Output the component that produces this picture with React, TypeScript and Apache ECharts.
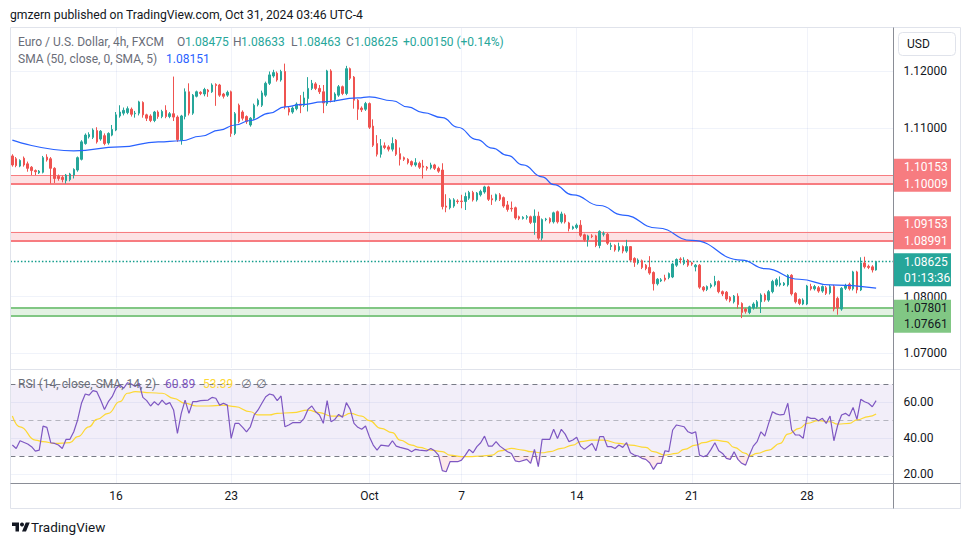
import React, { useEffect, useRef } from "react";
import * as echarts from "echarts";

const FONT = "Roboto, 'Noto Sans', 'DejaVu Sans', sans-serif";

// EUR/USD 4h candles, each [open, high, low, close]
const weekSep09 = [
  [1.1050, 1.1053, 1.1031, 1.1034], [1.1045, 1.1048, 1.1030, 1.1033], [1.1032, 1.1044, 1.1030, 1.1042],
  [1.1046, 1.1049, 1.1031, 1.1034], [1.1036, 1.1040, 1.1022, 1.1028], [1.1030, 1.1032, 1.1016, 1.1024],
  [1.1024, 1.1026, 1.1016, 1.1022], [1.1020, 1.1025, 1.1018, 1.1023], [1.1021, 1.1050, 1.1019, 1.1047],
  [1.1048, 1.1053, 1.1040, 1.1043], [1.1045, 1.1048, 1.1001, 1.1028], [1.1028, 1.1030, 1.1002, 1.1010],
  [1.1014, 1.1017, 1.1006, 1.1010], [1.1012, 1.1015, 1.1003, 1.1008], [1.1006, 1.1018, 1.1001, 1.1016],
  [1.1008, 1.1020, 1.1005, 1.1018], [1.1016, 1.1028, 1.1010, 1.1026], [1.1025, 1.1049, 1.1022, 1.1047],
  [1.1044, 1.1078, 1.1042, 1.1075], [1.1072, 1.1090, 1.1070, 1.1087], [1.1084, 1.1092, 1.1081, 1.1088],
  [1.1083, 1.1099, 1.1080, 1.1096], [1.1095, 1.1101, 1.1072, 1.1075], [1.1080, 1.1096, 1.1077, 1.1094],
  [1.1086, 1.1090, 1.1069, 1.1072], [1.1073, 1.1092, 1.1070, 1.1090], [1.1087, 1.1105, 1.1085, 1.1097],
];
const weekSep16 = [
  [1.1096, 1.1128, 1.1094, 1.1123], [1.1121, 1.1140, 1.1118, 1.1128], [1.1126, 1.1136, 1.1122, 1.1131],
  [1.1127, 1.1138, 1.1124, 1.1134], [1.1133, 1.1136, 1.1120, 1.1124], [1.1125, 1.1130, 1.1118, 1.1126],
  [1.1126, 1.1148, 1.1122, 1.1146], [1.1145, 1.1147, 1.1118, 1.1123], [1.1123, 1.1125, 1.1112, 1.1117],
  [1.1121, 1.1124, 1.1110, 1.1113], [1.1113, 1.1130, 1.1110, 1.1128], [1.1128, 1.1131, 1.1116, 1.1120],
  [1.1120, 1.1132, 1.1117, 1.1129], [1.1131, 1.1140, 1.1117, 1.1120], [1.1120, 1.1128, 1.1117, 1.1125],
  [1.1125, 1.1191, 1.1112, 1.1119], [1.1119, 1.1122, 1.1075, 1.1079], [1.1078, 1.1123, 1.1070, 1.1121],
  [1.1120, 1.1170, 1.1115, 1.1164], [1.1164, 1.1179, 1.1122, 1.1126], [1.1126, 1.1160, 1.1123, 1.1158],
  [1.1156, 1.1166, 1.1154, 1.1164], [1.1163, 1.1165, 1.1158, 1.1161], [1.1160, 1.1171, 1.1156, 1.1168],
  [1.1167, 1.1169, 1.1155, 1.1164], [1.1164, 1.1179, 1.1162, 1.1176], [1.1177, 1.1179, 1.1139, 1.1175],
  [1.1176, 1.1178, 1.1155, 1.1158], [1.1160, 1.1162, 1.1152, 1.1156], [1.1158, 1.1166, 1.1155, 1.1163],
];
const weekSep23 = [
  [1.1164, 1.1166, 1.1084, 1.1090], [1.1090, 1.1128, 1.1087, 1.1125], [1.1140, 1.1143, 1.1108, 1.1111],
  [1.1128, 1.1131, 1.1113, 1.1117], [1.1120, 1.1122, 1.1107, 1.1111], [1.1105, 1.1119, 1.1102, 1.1117],
  [1.1117, 1.1143, 1.1114, 1.1140], [1.1141, 1.1152, 1.1138, 1.1149], [1.1140, 1.1166, 1.1137, 1.1162],
  [1.1158, 1.1182, 1.1155, 1.1179], [1.1179, 1.1200, 1.1176, 1.1194], [1.1192, 1.1203, 1.1189, 1.1198],
  [1.1197, 1.1200, 1.1182, 1.1185], [1.1185, 1.1203, 1.1182, 1.1200], [1.1200, 1.1214, 1.1133, 1.1137],
  [1.1134, 1.1137, 1.1122, 1.1128], [1.1128, 1.1138, 1.1125, 1.1135], [1.1134, 1.1145, 1.1131, 1.1142],
  [1.1142, 1.1158, 1.1126, 1.1140], [1.1140, 1.1164, 1.1137, 1.1153], [1.1152, 1.1190, 1.1129, 1.1170],
  [1.1170, 1.1185, 1.1167, 1.1179], [1.1178, 1.1181, 1.1167, 1.1170], [1.1170, 1.1176, 1.1160, 1.1164],
  [1.1164, 1.1176, 1.1126, 1.1144], [1.1143, 1.1203, 1.1139, 1.1201], [1.1201, 1.1204, 1.1145, 1.1149],
  [1.1150, 1.1163, 1.1146, 1.1160], [1.1158, 1.1176, 1.1155, 1.1173], [1.1173, 1.1175, 1.1158, 1.1161],
];
const weekSep30 = [
  [1.1161, 1.1210, 1.1158, 1.1205], [1.1205, 1.1207, 1.1185, 1.1188], [1.1190, 1.1192, 1.1134, 1.1149],
  [1.1149, 1.1151, 1.1114, 1.1133], [1.1135, 1.1138, 1.1128, 1.1132], [1.1133, 1.1146, 1.1130, 1.1143],
  [1.1143, 1.1145, 1.1098, 1.1101], [1.1103, 1.1115, 1.1066, 1.1069], [1.1072, 1.1087, 1.1049, 1.1053],
  [1.1053, 1.1080, 1.1047, 1.1068], [1.1068, 1.1074, 1.1062, 1.1065], [1.1066, 1.1069, 1.1058, 1.1062],
  [1.1062, 1.1083, 1.1058, 1.1072], [1.1078, 1.1080, 1.1050, 1.1053], [1.1054, 1.1065, 1.1033, 1.1044],
  [1.1047, 1.1049, 1.1041, 1.1044], [1.1044, 1.1046, 1.1035, 1.1038], [1.1040, 1.1042, 1.1031, 1.1034],
  [1.1034, 1.1046, 1.1031, 1.1038], [1.1037, 1.1040, 1.1027, 1.1030], [1.1032, 1.1043, 1.1010, 1.1030],
  [1.1030, 1.1032, 1.1024, 1.1028], [1.1029, 1.1038, 1.1026, 1.1034], [1.1034, 1.1036, 1.1025, 1.1028],
  [1.1028, 1.1031, 1.1020, 1.1023], [1.1025, 1.1037, 1.0955, 1.0960], [1.0961, 1.0982, 1.0950, 1.0959],
  [1.0958, 1.0975, 1.0955, 1.0972], [1.0961, 1.0975, 1.0958, 1.0972], [1.0970, 1.0973, 1.0965, 1.0969],
];
const weekOct07 = [
  [1.0970, 1.0981, 1.0957, 1.0969], [1.0969, 1.0985, 1.0954, 1.0978], [1.0975, 1.0988, 1.0972, 1.0985],
  [1.0985, 1.0988, 1.0969, 1.0972], [1.0972, 1.0986, 1.0969, 1.0984], [1.0981, 1.0990, 1.0978, 1.0987],
  [1.0986, 1.0997, 1.0983, 1.0995], [1.0995, 1.0997, 1.0970, 1.0973], [1.0974, 1.0981, 1.0963, 1.0972],
  [1.0972, 1.0983, 1.0969, 1.0981], [1.0981, 1.0984, 1.0970, 1.0973], [1.0976, 1.0978, 1.0958, 1.0961],
  [1.0963, 1.0970, 1.0951, 1.0955], [1.0957, 1.0969, 1.0951, 1.0956], [1.0958, 1.0960, 1.0937, 1.0940],
  [1.0942, 1.0944, 1.0936, 1.0939], [1.0939, 1.0943, 1.0937, 1.0941], [1.0941, 1.0945, 1.0937, 1.0942],
  [1.0942, 1.0944, 1.0929, 1.0932], [1.0932, 1.0955, 1.0910, 1.0943], [1.0943, 1.0951, 1.0901, 1.0904],
  [1.0904, 1.0939, 1.0900, 1.0937], [1.0937, 1.0940, 1.0934, 1.0938], [1.0939, 1.0941, 1.0930, 1.0933],
  [1.0933, 1.0951, 1.0930, 1.0949], [1.0951, 1.0953, 1.0930, 1.0933], [1.0933, 1.0951, 1.0930, 1.0947],
  [1.0945, 1.0948, 1.0930, 1.0933], [1.0931, 1.0933, 1.0916, 1.0921], [1.0921, 1.0926, 1.0919, 1.0924],
];
const weekOct14 = [
  [1.0923, 1.0930, 1.0920, 1.0927], [1.0927, 1.0936, 1.0906, 1.0909], [1.0910, 1.0912, 1.0898, 1.0901],
  [1.0901, 1.0910, 1.0889, 1.0908], [1.0908, 1.0911, 1.0904, 1.0907], [1.0908, 1.0910, 1.0888, 1.0891],
  [1.0891, 1.0918, 1.0886, 1.0916], [1.0911, 1.0916, 1.0907, 1.0912], [1.0911, 1.0913, 1.0892, 1.0895],
  [1.0889, 1.0896, 1.0883, 1.0891], [1.0891, 1.0893, 1.0880, 1.0883], [1.0883, 1.0896, 1.0880, 1.0889],
  [1.0889, 1.0891, 1.0877, 1.0881], [1.0881, 1.0901, 1.0878, 1.0889], [1.0889, 1.0890, 1.0862, 1.0865],
  [1.0868, 1.0870, 1.0853, 1.0861], [1.0860, 1.0868, 1.0857, 1.0865], [1.0864, 1.0866, 1.0849, 1.0852],
  [1.0856, 1.0858, 1.0847, 1.0850], [1.0852, 1.0872, 1.0839, 1.0842], [1.0843, 1.0845, 1.0811, 1.0823],
  [1.0823, 1.0833, 1.0820, 1.0831], [1.0828, 1.0833, 1.0826, 1.0830], [1.0833, 1.0839, 1.0827, 1.0830],
  [1.0834, 1.0843, 1.0831, 1.0841], [1.0835, 1.0860, 1.0833, 1.0858], [1.0856, 1.0868, 1.0853, 1.0866],
  [1.0867, 1.0870, 1.0859, 1.0866], [1.0859, 1.0870, 1.0856, 1.0865], [1.0865, 1.0867, 1.0853, 1.0856],
];
const weekOct21 = [
  [1.0860, 1.0862, 1.0855, 1.0858], [1.0853, 1.0858, 1.0845, 1.0856], [1.0856, 1.0858, 1.0814, 1.0817],
  [1.0817, 1.0819, 1.0809, 1.0812], [1.0813, 1.0820, 1.0810, 1.0818], [1.0818, 1.0824, 1.0815, 1.0821],
  [1.0821, 1.0837, 1.0818, 1.0827], [1.0827, 1.0829, 1.0806, 1.0809], [1.0809, 1.0811, 1.0801, 1.0805],
  [1.0808, 1.0810, 1.0793, 1.0796], [1.0799, 1.0801, 1.0790, 1.0793], [1.0791, 1.0803, 1.0788, 1.0801],
  [1.0801, 1.0806, 1.0779, 1.0786], [1.0788, 1.0790, 1.0762, 1.0772], [1.0778, 1.0780, 1.0770, 1.0774],
  [1.0772, 1.0784, 1.0769, 1.0782], [1.0780, 1.0790, 1.0777, 1.0787], [1.0782, 1.0794, 1.0779, 1.0791],
  [1.0791, 1.0806, 1.0771, 1.0803], [1.0803, 1.0806, 1.0791, 1.0794], [1.0794, 1.0812, 1.0791, 1.0809],
  [1.0809, 1.0830, 1.0806, 1.0827], [1.0821, 1.0833, 1.0818, 1.0830], [1.0821, 1.0836, 1.0818, 1.0824],
  [1.0821, 1.0826, 1.0819, 1.0824], [1.0821, 1.0840, 1.0818, 1.0838], [1.0838, 1.0840, 1.0802, 1.0805],
  [1.0806, 1.0808, 1.0788, 1.0791], [1.0795, 1.0797, 1.0785, 1.0788], [1.0787, 1.0797, 1.0785, 1.0794],
];
const weekOct28 = [
  [1.0787, 1.0821, 1.0785, 1.0819], [1.0818, 1.0823, 1.0811, 1.0814], [1.0814, 1.0821, 1.0811, 1.0818],
  [1.0816, 1.0819, 1.0807, 1.0810], [1.0810, 1.0820, 1.0807, 1.0818], [1.0816, 1.0819, 1.0803, 1.0806],
  [1.0807, 1.0821, 1.0804, 1.0818], [1.0818, 1.0821, 1.0774, 1.0778], [1.0797, 1.0800, 1.0768, 1.0780],
  [1.0778, 1.0817, 1.0775, 1.0815], [1.0815, 1.0823, 1.0812, 1.0820], [1.0822, 1.0825, 1.0811, 1.0814],
  [1.0814, 1.0846, 1.0811, 1.0844], [1.0844, 1.0846, 1.0806, 1.0812], [1.0812, 1.0870, 1.0810, 1.0860],
  [1.0860, 1.0871, 1.0850, 1.0853], [1.0854, 1.0857, 1.0849, 1.0852], [1.0853, 1.0856, 1.0843, 1.08475],
  [1.08475, 1.08633, 1.08463, 1.08625],
];

// SMA(50) line, [candle index, value]
const smaPoints = [
  [0, 1.1078], [16, 1.1059], [28, 1.1066], [38, 1.1075], [44, 1.1077], [49, 1.1085], [54, 1.1096],
  [58, 1.1105], [62, 1.1113], [67, 1.1126], [71, 1.1137], [75, 1.1141], [81, 1.1146], [90, 1.1153],
  [93, 1.1155], [99, 1.1148], [103, 1.1137], [107, 1.1127], [112, 1.1118], [116, 1.1101], [121, 1.1079],
  [125, 1.1064], [129, 1.1051], [133, 1.1034], [138, 1.1013], [141, 1.0999], [146, 1.0981], [153, 1.0962],
  [159, 1.0945], [168, 1.0922], [177, 1.09], [190, 1.0865], [196, 1.085], [205, 1.0831], [213, 1.0821],
  [225, 1.08151],
];

// RSI(14), [candle index, value]
const rsiPoints = [
  [0, 36.1], [1, 34.2], [2, 38.5], [4, 36.7], [5, 35.2], [6, 32.7], [7, 33.3], [8, 46.7], [9, 46.0], [10, 37.4],
  [11, 37.0], [12, 36.1], [13, 34.2], [14, 39.3], [15, 39.3], [16, 43.5], [17, 50.1], [18, 59.4], [19, 64.6],
  [20, 64.0], [21, 66.5], [22, 65.9], [23, 61.2], [24, 56.0], [25, 60.3], [26, 63.1], [27, 67.8], [28, 69.6],
  [29, 67.8], [30, 70.9], [31, 70.2], [32, 68.8], [33, 70.6], [34, 62.7], [35, 60.9], [36, 57.9], [37, 60.3],
  [38, 58.4], [39, 61.2], [40, 58.8], [41, 59.8], [42, 55.7], [43, 42.6], [44, 53.8], [45, 61.2], [46, 53.8],
  [47, 60.3], [48, 60.3], [49, 60.9], [51, 61.2], [52, 62.7], [53, 62.2], [54, 58.4], [55, 59.4], [56, 58.4],
  [57, 39.8], [58, 48.2], [59, 48.2], [60, 46.0], [61, 43.5], [62, 46.3], [63, 52.9], [64, 55.7], [65, 59.4],
  [66, 63.1], [67, 64.6], [68, 64.0], [69, 60.9], [70, 63.5], [71, 46.3], [72, 47.3], [73, 48.6], [75, 48.6],
  [76, 51.0], [77, 56.0], [78, 57.9], [79, 54.7], [80, 52.9], [81, 48.2], [82, 60.9], [83, 49.1], [84, 50.4],
  [85, 53.2], [86, 51.6], [87, 59.8], [88, 56.0], [89, 48.2], [90, 46.0], [91, 44.9], [92, 46.7], [93, 40.8],
  [94, 36.1], [95, 33.3], [96, 36.1], [98, 35.5], [99, 38.5], [100, 35.5], [101, 34.8], [103, 33.7], [104, 32.4],
  [105, 33.7], [106, 33.3], [108, 32.9], [109, 34.2], [110, 32.9], [111, 30.5], [112, 21.8], [113, 21.2],
  [114, 26.8], [116, 26.8], [117, 27.7], [118, 30.5], [119, 33.7], [120, 31.8], [121, 35.2], [122, 37.4],
  [123, 41.1], [124, 35.5], [125, 35.5], [126, 38.0], [127, 35.5], [129, 32.4], [130, 31.4], [131, 27.3],
  [132, 26.8], [134, 28.1], [135, 25.9], [136, 33.7], [137, 24.0], [138, 39.3], [139, 39.3], [140, 39.3],
  [141, 44.9], [142, 39.8], [143, 44.9], [144, 42.2], [145, 38.0], [146, 38.9], [147, 40.4], [148, 35.5],
  [149, 33.7], [151, 37.0], [152, 32.9], [153, 40.8], [154, 40.8], [155, 35.2], [156, 35.2], [157, 34.2],
  [158, 36.1], [159, 34.8], [160, 37.4], [161, 31.8], [162, 30.5], [163, 30.0], [164, 28.7], [165, 28.1],
  [166, 26.2], [167, 22.5], [168, 25.9], [169, 25.9], [170, 32.9], [171, 32.4], [172, 44.5], [173, 47.3],
  [175, 46.3], [176, 43.5], [177, 42.6], [178, 43.5], [179, 30.5], [180, 29.6], [181, 30.5], [182, 33.7],
  [183, 37.4], [184, 32.9], [185, 31.4], [186, 28.7], [187, 28.1], [188, 32.4], [189, 28.1], [190, 25.9],
  [191, 24.9], [192, 30.5], [193, 35.5], [194, 38.0], [195, 43.5], [196, 41.1], [197, 48.2], [198, 54.7],
  [199, 53.5], [200, 52.9], [201, 53.2], [202, 59.4], [203, 44.5], [204, 41.7], [205, 41.7], [206, 39.8],
  [207, 51.9], [208, 51.0], [209, 51.0], [210, 49.7], [211, 51.0], [212, 48.2], [213, 52.3], [214, 38.5],
  [215, 47.3], [216, 52.9], [217, 53.8], [218, 52.3], [219, 57.1], [220, 50.4], [221, 61.6], [222, 60.3],
  [223, 59.4], [224, 57.5], [225, 60.89],
];

// RSI-based SMA(14), [candle index, value]
const rsiMaPoints = [
  [0, 52.3], [2, 46.3], [6, 38.9], [8, 38.0], [11, 37.0], [15, 37.4], [17, 40.8], [20, 46.3], [22, 50.4],
  [25, 53.8], [28, 60.3], [30, 65.0], [32, 65.9], [36, 65.3], [39, 65.0], [42, 62.2], [45, 59.4], [48, 57.9],
  [51, 57.9], [55, 58.4], [58, 57.5], [62, 54.7], [64, 52.9], [67, 52.9], [69, 53.8], [73, 54.2], [77, 55.6],
  [80, 54.2], [83, 52.3], [86, 52.3], [88, 53.8], [91, 52.3], [93, 49.7], [96, 45.4], [99, 43.0], [101, 38.9],
  [104, 36.1], [106, 34.8], [109, 33.3], [112, 32.4], [114, 30.5], [117, 29.6], [119, 29.6], [122, 30.0],
  [125, 30.5], [127, 32.9], [130, 34.2], [133, 33.3], [135, 32.4], [138, 31.8], [140, 32.4], [143, 34.2],
  [146, 36.1], [148, 38.0], [151, 38.9], [154, 38.9], [158, 37.0], [161, 36.1], [165, 34.8], [167, 32.4],
  [170, 30.5], [173, 31.4], [175, 33.7], [178, 36.1], [180, 37.4], [183, 38.9], [186, 38.0], [188, 34.8],
  [191, 31.4], [192, 30.0], [194, 31.4], [197, 33.3], [200, 37.0], [202, 42.2], [205, 45.4], [207, 48.2],
  [210, 49.7], [213, 49.1], [215, 47.8], [218, 48.2], [220, 50.1], [223, 52.0], [225, 53.39],
];

const slotCount = 230;
const tickIndex = [27, 57, 93, 117, 147, 177, 207];
const tickText = ["16", "23", "Oct", "7", "14", "21", "28"];
const priceTicks = [1.07, 1.08, 1.09, 1.1, 1.11, 1.12];
const rsiTicks = [20, 40, 60];
const upperZone = [1.10009, 1.10153];
const middleZone = [1.08991, 1.09153];
const supportZone = [1.07661, 1.07801];
const rsiLevels = [30, 50, 70];
const rsiLegendText = ["60.89", "53.39"];
const countdown = "01:13:36";

const PRICE_MIN = 1.067336;
const PRICE_MAX = 1.127726;
const RSI_MIN = 14.92;
const RSI_MAX = 77.99;

const UP = "#26a69a";
const DOWN = "#ef5350";
const ZONE_RED = "#f77c80";
const ZONE_GREEN = "#81c784";
const GRID = "#f0f3fa";
const VGRID = "rgba(60,90,180,0.07)";
const GRAY_TEXT = "#6a6d78";

function txt(x: number, y: number, text: string, fill: string, size = 12, extra: any = {}) {
  return {
    type: "text",
    x,
    y,
    silent: true,
    z: 100,
    style: {
      text,
      fill,
      fontSize: size,
      fontFamily: FONT,
      textAlign: "left",
      align: "left",
      textVerticalAlign: "middle",
      verticalAlign: "middle",
      ...extra,
    },
  };
}

export default function App() {
  const ref = useRef<HTMLDivElement>(null);

  useEffect(() => {
    const el = ref.current;
    if (!el) return;
    const logoShape = echarts.graphic.extendPath("M14 22H7V11H0V4h14v18zM28 22h-8l7.5-18h8L28 22z", {});
    echarts.graphic.registerShape("tvlogo", logoShape);

    const chart = echarts.init(el, null, { renderer: "svg" });

    const ohlc = [weekSep09, weekSep16, weekSep23, weekSep30, weekOct07, weekOct14, weekOct21, weekOct28].flat();
    const candleData = ohlc.map(([o, h, l, c]) => [o, c, l, h]);
    const categories = Array.from({ length: slotCount }, (_, i) => String(i));
    const last = ohlc[ohlc.length - 1];
    const prevClose = ohlc[ohlc.length - 2][3];
    const lastClose = last[3];
    const change = lastClose - prevClose;
    const changePct = (change / prevClose) * 100;

    const axisLabelBase = { color: "#131722", fontSize: 12, fontFamily: FONT };

    const option: any = {
      animation: false,
      backgroundColor: "#ffffff",
      grid: [
        { left: 10.43, right: 76.6, top: 28, height: 340, containLabel: false, outerBoundsMode: "none" },
        { left: 10.43, right: 76.6, top: 370, height: 113, containLabel: false, outerBoundsMode: "none" },
      ],
      xAxis: [
        {
          type: "category",
          gridIndex: 0,
          data: categories,
          boundaryGap: true,
          axisLine: { show: false },
          axisTick: { show: false },
          axisLabel: { show: false },
          splitLine: { show: false },
        },
        {
          type: "category",
          gridIndex: 1,
          data: categories,
          boundaryGap: true,
          axisLine: { show: false },
          axisTick: { show: false },
          axisLabel: {
            ...axisLabelBase,
            margin: 7,
            interval: (i: number) => tickIndex.indexOf(i) >= 0,
            formatter: (_v: string, i: number) => {
              const k = tickIndex.indexOf(i);
              return k >= 0 ? tickText[k] : "";
            },
          },
          splitLine: { show: false },
        },
      ],
      yAxis: [
        {
          type: "value",
          gridIndex: 0,
          position: "right",
          min: PRICE_MIN,
          max: PRICE_MAX,
          axisLine: { show: false },
          axisTick: { show: false, customValues: priceTicks },
          axisLabel: { ...axisLabelBase, margin: 10, customValues: priceTicks, formatter: (v: number) => v.toFixed(5) },
          splitLine: { show: true, lineStyle: { color: GRID, width: 1 } },
        },
        {
          type: "value",
          gridIndex: 1,
          position: "right",
          min: RSI_MIN,
          max: RSI_MAX,
          axisLine: { show: false },
          axisTick: { show: false, customValues: rsiTicks },
          axisLabel: { ...axisLabelBase, margin: 10, customValues: rsiTicks, formatter: (v: number) => v.toFixed(2) },
          splitLine: { show: true, lineStyle: { color: GRID, width: 1 } },
        },
      ],
      series: [
        {
          type: "candlestick",
          name: "EURUSD",
          xAxisIndex: 0,
          yAxisIndex: 0,
          data: candleData,
          barWidth: 2,
          z: 3,
          itemStyle: { color: UP, color0: DOWN, borderColor: UP, borderColor0: DOWN, borderWidth: 1 },
          markArea: {
            silent: true,
            z: 1,
            label: { show: false },
            data: [
              [{ yAxis: upperZone[0], itemStyle: { color: "#fde2e4" } }, { yAxis: upperZone[1] }],
              [{ yAxis: middleZone[0], itemStyle: { color: "#fde2e4" } }, { yAxis: middleZone[1] }],
              [{ yAxis: supportZone[0], itemStyle: { color: "#e3f2e3" } }, { yAxis: supportZone[1] }],
            ],
          },
          markLine: {
            silent: true,
            z: 2,
            precision: 6,
            symbol: ["none", "none"],
            label: { show: false },
            data: [
              ...tickIndex.map((i) => ({ xAxis: i, lineStyle: { color: VGRID, width: 1, type: "solid" } })),
              { yAxis: upperZone[1], lineStyle: { color: ZONE_RED, width: 1, type: "solid" } },
              { yAxis: upperZone[0], lineStyle: { color: ZONE_RED, width: 2, type: "solid" } },
              { yAxis: middleZone[1], lineStyle: { color: ZONE_RED, width: 1, type: "solid" } },
              { yAxis: middleZone[0], lineStyle: { color: ZONE_RED, width: 2, type: "solid" } },
              { yAxis: supportZone[1], lineStyle: { color: ZONE_GREEN, width: 2, type: "solid" } },
              { yAxis: supportZone[0], lineStyle: { color: ZONE_GREEN, width: 2, type: "solid" } },
              { yAxis: lastClose, lineStyle: { color: "#139d8c", width: 1.3, type: [1.5, 2] } },
            ],
          },
        },
        {
          type: "line",
          name: "SMA",
          xAxisIndex: 0,
          yAxisIndex: 0,
          data: smaPoints,
          smooth: true,
          smoothMonotone: "x",
          symbol: "none",
          z: 4,
          lineStyle: { color: "#2962ff", width: 1.2 },
        },
        {
          type: "line",
          name: "oversold",
          xAxisIndex: 1,
          yAxisIndex: 1,
          data: rsiPoints.map(([i, v]) => [i, Math.min(v, 30)]),
          symbol: "none",
          silent: true,
          z: 2,
          lineStyle: { width: 0, opacity: 0 },
          areaStyle: { origin: 30, color: "rgba(242,54,69,0.16)" },
        },
        {
          type: "line",
          name: "overbought",
          xAxisIndex: 1,
          yAxisIndex: 1,
          data: rsiPoints.map(([i, v]) => [i, Math.max(v, 70)]),
          symbol: "none",
          silent: true,
          z: 2,
          lineStyle: { width: 0, opacity: 0 },
          areaStyle: { origin: 70, color: "rgba(8,153,129,0.16)" },
        },
        {
          type: "line",
          name: "RSI",
          xAxisIndex: 1,
          yAxisIndex: 1,
          data: rsiPoints,
          symbol: "none",
          z: 4,
          lineStyle: { color: "#7e57c2", width: 1.2 },
          markArea: {
            silent: true,
            z: 1,
            label: { show: false },
            data: [[{ yAxis: rsiLevels[0], itemStyle: { color: "rgba(126,87,194,0.1)" } }, { yAxis: rsiLevels[2] }]],
          },
          markLine: {
            silent: true,
            z: 2,
            precision: 4,
            symbol: ["none", "none"],
            label: { show: false },
            data: [
              ...tickIndex.map((i) => ({ xAxis: i, lineStyle: { color: VGRID, width: 1, type: "solid" } })),
              { yAxis: rsiLevels[2], lineStyle: { color: "#787b86", width: 1, type: [5, 4] } },
              { yAxis: rsiLevels[1], lineStyle: { color: "rgba(120,123,134,0.5)", width: 1, type: [5, 4] } },
              { yAxis: rsiLevels[0], lineStyle: { color: "#787b86", width: 1, type: [5, 4] } },
            ],
          },
        },
        {
          type: "line",
          name: "RSI MA",
          xAxisIndex: 1,
          yAxisIndex: 1,
          data: rsiMaPoints,
          smooth: true,
          smoothMonotone: "x",
          symbol: "none",
          z: 3,
          lineStyle: { color: "#fdd835", width: 1.2 },
        },
      ],
    };

    chart.setOption(option);

    const py = (v: number) => chart.convertToPixel({ yAxisIndex: 0 }, v) as number;
    const rowH = 16.5;
    const boxes = [
      { anchor: upperZone[0], row: 1, labels: [upperZone[1].toFixed(5), upperZone[0].toFixed(5)], fill: ZONE_RED, color: "#ffffff" },
      { anchor: middleZone[0], row: 1, labels: [middleZone[1].toFixed(5), middleZone[0].toFixed(5)], fill: ZONE_RED, color: "#ffffff" },
      { anchor: lastClose, row: 0, labels: [lastClose.toFixed(5), countdown], fill: UP, color: "#ffffff" },
      { anchor: supportZone[1], row: 0, labels: [supportZone[1].toFixed(5), supportZone[0].toFixed(5)], fill: ZONE_GREEN, color: "#131722" },
    ];
    const boxGraphics: any[] = [];
    boxes.forEach((b) => {
      const top = py(b.anchor) - rowH / 2 - b.row * rowH;
      boxGraphics.push({
        type: "rect",
        silent: true,
        z: 90,
        shape: { x: 894, y: top, width: 57, height: rowH * 2 },
        style: { fill: b.fill },
      });
      b.labels.forEach((t, k) => {
        boxGraphics.push(txt(904, top + rowH / 2 + k * rowH, t, b.color, 12));
      });
    });

    const teal = UP;
    const graphics: any[] = [
      // frame and separators
      { type: "rect", silent: true, z: 80, shape: { x: 10.5, y: 27.5, width: 950, height: 481 }, style: { fill: "none", stroke: "#e0e3eb", lineWidth: 1 } },
      { type: "line", silent: true, z: 80, shape: { x1: 10.5, y1: 369.5, x2: 960.5, y2: 369.5 }, style: { stroke: "#e0e3eb", lineWidth: 1 } },
      { type: "line", silent: true, z: 81, shape: { x1: 10.5, y1: 483.5, x2: 960.5, y2: 483.5 }, style: { stroke: "#8a8d96", lineWidth: 1 } },
      { type: "line", silent: true, z: 81, shape: { x1: 893.5, y1: 27.5, x2: 893.5, y2: 508.5 }, style: { stroke: "#8a8d96", lineWidth: 1 } },
      // USD button
      { type: "rect", silent: true, z: 90, shape: { x: 898.5, y: 32.5, width: 57, height: 23, r: 4 }, style: { fill: "#ffffff", stroke: "#e0e3eb", lineWidth: 1 } },
      txt(907, 44, "USD", "#131722", 12),
      // header
      txt(10, 15, "gmzern published on TradingView.com, Oct 31, 2024 03:46 UTC-4", "#131722", 12.2),
      // legend row 1
      txt(18, 42, "Euro / U.S. Dollar, 4h, FXCM", GRAY_TEXT, 12),
      txt(177, 42, "O", GRAY_TEXT, 12),
      txt(185, 42, last[0].toFixed(5), teal, 12),
      txt(233, 42, "H", GRAY_TEXT, 12),
      txt(241, 42, last[1].toFixed(5), teal, 12),
      txt(291, 42, "L", GRAY_TEXT, 12),
      txt(297, 42, last[2].toFixed(5), teal, 12),
      txt(346, 42, "C", GRAY_TEXT, 12),
      txt(354, 42, last[3].toFixed(5), teal, 12),
      txt(403, 42, `${change >= 0 ? "+" : ""}${change.toFixed(5)} (${changePct >= 0 ? "+" : ""}${changePct.toFixed(2)}%)`, teal, 12),
      // legend row 2
      txt(18, 59, "SMA (50, close, 0, SMA, 5)", GRAY_TEXT, 12),
      txt(166, 59, smaPoints[smaPoints.length - 1][1].toFixed(5), "#2962ff", 12),
      // RSI legend
      txt(18, 384, "RSI (14, close, SMA, 14, 2)", GRAY_TEXT, 12),
      txt(165, 384, rsiLegendText[0], "#7e57c2", 12),
      txt(203, 384, rsiLegendText[1], "#fdd835", 12),
      txt(241, 384, "\u2205", GRAY_TEXT, 12),
      txt(256, 384, "\u2205", GRAY_TEXT, 12),
      // TradingView logo
      { type: "tvlogo", silent: true, z: 100, x: 12, y: 520.5, scaleX: 0.5, scaleY: 0.5, style: { fill: "#131722" } },
      { type: "circle", silent: true, z: 100, shape: { cx: 22, cy: 524.5, r: 2 }, style: { fill: "#131722" } },
      txt(31, 527, "TradingView", "#131722", 13.5),
      ...boxGraphics,
    ];

    chart.setOption({ graphic: { elements: graphics } });

    return () => {
      chart.dispose();
    };
  }, []);

  return (
    <div
      ref={ref}
      style={{ position: "fixed", left: 0, top: 0, width: 970, height: 545, background: "#ffffff" }}
    />
  );
}
